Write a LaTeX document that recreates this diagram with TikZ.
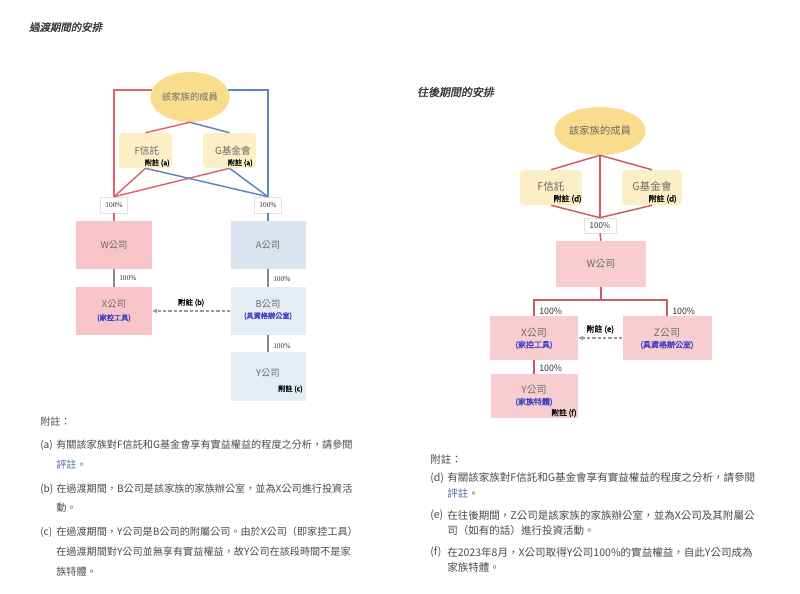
\documentclass[tikz,border=0pt]{standalone}
\usepackage{fontspec}
\setmainfont{Noto Sans CJK TC}
\newfontfamily\titlefont[FakeSlant=0.2,FakeBold=1.2]{Noto Sans CJK TC}
\newfontfamily\bfcjk[FakeBold=1.5]{Noto Sans CJK TC}
\newfontfamily\serlat{Liberation Serif}
\usetikzlibrary{shapes.geometric,arrows.meta}
\definecolor{gold}{HTML}{F9DC8C}
\definecolor{cream}{HTML}{FCEFC5}
\definecolor{pinkL}{HTML}{F7C5C9}
\definecolor{pinkR}{HTML}{F8CDD0}
\definecolor{blueA}{HTML}{DAE4EF}
\definecolor{blueB}{HTML}{E4ECF5}
\definecolor{redline}{HTML}{DE6470}
\definecolor{redlineR}{HTML}{CC5C62}
\definecolor{blueline}{HTML}{5B86BE}
\definecolor{linegray}{HTML}{8A8A8A}
\definecolor{arrowgray}{HTML}{9A9A9A}
\definecolor{txtgray}{HTML}{6A6A6A}
\definecolor{notegray}{HTML}{4A4A4A}
\definecolor{titlegray}{HTML}{333333}
\definecolor{linkblue}{HTML}{3B3BC8}
\definecolor{notelink}{HTML}{4A6FA5}
\definecolor{boxline}{HTML}{E2E2E2}
\tikzset{
  lnred/.style={draw=redline, line width=1.1pt},
  lnblue/.style={draw=blueline, line width=1.1pt},
  lngray/.style={draw=linegray, line width=0.8pt},
  lnredR/.style={draw=redlineR, line width=1.1pt},
  member/.style={ellipse, fill=gold, inner sep=0, text=txtgray},
  trustbox/.style={rectangle, rounded corners=2.5pt, fill=cream, inner sep=0},
  cobox/.style={rectangle, inner sep=0, text=txtgray},
  pctbox/.style={rectangle, fill=white, draw=boxline, line width=0.4pt, inner sep=0, text=titlegray},
  nametext/.style={text=txtgray, inner sep=0},
  subtext/.style={text=linkblue, inner sep=0},
  tagtext/.style={text=black, inner sep=0},
  pctlabL/.style={anchor=west, inner sep=0, text=titlegray, font=\serlat\fontsize{5.5}{6}\selectfont},
  pctlabR/.style={anchor=west, inner sep=0, text=titlegray, font=\fontsize{6.6}{7}\selectfont},
  noteL/.style={anchor=west, inner sep=0, text=notegray, font=\fontsize{7.6}{9}\selectfont},
  noteR/.style={anchor=west, inner sep=0, text=notegray, font=\fontsize{7.9}{9}\selectfont},
  dasharrow/.style={draw=arrowgray, line width=0.8pt, dash pattern=on 2.5pt off 1.5pt, -{Stealth[length=4pt,width=3.5pt]}}
}
\begin{document}
\begin{tikzpicture}[x=0.75pt,y=-0.75pt]
\fill[white] (0,0) rectangle (800,593);
\useasboundingbox (0,0) rectangle (800,593);

% ---------------- left diagram ----------------
\node[anchor=west, inner sep=0, text=titlegray, font=\titlefont\fontsize{7.8}{9}\selectfont] (tL) at (29,27) {過渡期間的安排};

\node[member, minimum width=57pt, minimum height=37.5pt, font=\fontsize{7}{8}\selectfont] (memL) at (190,97) {該家族的成員};
\node[trustbox, minimum width=39.75pt, minimum height=26.25pt] (FL) at (145.5,150.5) {};
\node[trustbox, minimum width=39.75pt, minimum height=26.25pt] (GL) at (229.5,150.5) {};
\node[nametext, font=\fontsize{7.3}{8}\selectfont] (FLn) at (147,151) {F信託};
\node[tagtext, anchor=east, font=\bfcjk\fontsize{5.4}{6}\selectfont] (FLt) at (170,163) {附註 (a)};
\node[nametext, font=\fontsize{7.3}{8}\selectfont] (GLn) at (233,151) {G基金會};
\node[tagtext, anchor=east, font=\bfcjk\fontsize{5.4}{6}\selectfont] (GLt) at (253,163) {附註 (a)};

\node[pctbox, minimum width=20.25pt, minimum height=12pt, font=\serlat\fontsize{5.5}{6}\selectfont] (pL1) at (114,205) {100\%};
\node[pctbox, minimum width=20.25pt, minimum height=12pt, font=\serlat\fontsize{5.5}{6}\selectfont] (pL2) at (268,205) {100\%};

\node[cobox, fill=pinkL, minimum width=57pt, minimum height=36pt, font=\fontsize{7}{8}\selectfont] (WL) at (114,245) {W公司};
\node[cobox, fill=pinkL, minimum width=57pt, minimum height=36pt] (XL) at (114,311) {};
\node[nametext, font=\fontsize{7}{8}\selectfont] (XLn) at (114,304) {X公司};
\node[subtext, font=\bfcjk\fontsize{5.4}{6}\selectfont] (XLs) at (114,318) {(家控工具)};
\node[cobox, fill=blueA, minimum width=56.25pt, minimum height=36pt, font=\fontsize{7}{8}\selectfont] (AL) at (268,245) {A公司};
\node[cobox, fill=blueB, minimum width=56.25pt, minimum height=36pt] (BL) at (268,311) {};
\node[nametext, font=\fontsize{7}{8}\selectfont] (BLn) at (268,304) {B公司};
\node[subtext, font=\bfcjk\fontsize{5.4}{6}\selectfont] (BLs) at (268,316) {(具資格辦公室)};
\node[cobox, fill=blueB, minimum width=56.25pt, minimum height=36.75pt] (YL) at (268,376.5) {};
\node[nametext, font=\fontsize{7}{8}\selectfont] (YLn) at (268,373) {Y公司};
\node[tagtext, anchor=east, font=\bfcjk\fontsize{5.4}{6}\selectfont] (YLt) at (303,389) {附註 (c)};

\draw[lnred] (memL.170) -- (memL.170 -| pL1) -- (pL1.north);
\draw[lnblue] (memL.10) -- (memL.10 -| pL2) -- (pL2.north);
\draw[lnred] (memL.south) -- (FL.north);
\draw[lnblue] (memL.south) -- (GL.north);
\draw[lnred] (FL.south) -- (pL1.north);
\draw[lnred] (GL.south) -- (pL1.north);
\draw[lnblue] (FL.south) -- (pL2.north);
\draw[lnblue] (GL.south) -- (pL2.north);
\draw[lnred, line width=0.8pt] (pL1.south) -- (WL.north);
\draw[lnblue, line width=0.8pt] (pL2.south) -- (AL.north);
\draw[lngray] (WL.south) -- (XL.north);
\draw[lngray] (AL.south) -- (BL.north);
\draw[lngray] (BL.south) -- (YL.north);
\draw[dasharrow] (BL.west) -- (XL.east) node[midway, above=3pt, tagtext, font=\bfcjk\fontsize{5.6}{6}\selectfont] {附註 (b)};
\node[pctlabL] at (119,278) {100\%};
\node[pctlabL] at (273,279) {100\%};
\node[pctlabL] at (273,346) {100\%};

% left notes
\node[noteL] at (40,422) {附註：};
\node[noteL] at (40,445) {(a)};
\node[noteL] at (56,445) {有關該家族對F信託和G基金會享有實益權益的程度之分析，請參閱};
\node[noteL] at (56,465) {\textcolor{notelink}{評註}。};
\node[noteL] at (40,489) {(b)};
\node[noteL] at (56,489) {在過渡期間，B公司是該家族的家族辦公室，並為X公司進行投資活};
\node[noteL] at (56,508) {動。};
\node[noteL] at (40,532) {(c)};
\node[noteL] at (56,532) {在過渡期間，Y公司是B公司的附屬公司。由於X公司（即家控工具）};
\node[noteL] at (56,552) {在過渡期間對Y公司並無享有實益權益，故Y公司在該段時間不是家};
\node[noteL] at (56,572) {族特體。};

% ---------------- right diagram ----------------
\node[anchor=west, inner sep=0, text=titlegray, font=\titlefont\fontsize{8.2}{9}\selectfont] (tR) at (417,92) {往後期間的安排};

\node[member, minimum width=68.25pt, minimum height=36pt, font=\fontsize{7.7}{8}\selectfont] (memR) at (600,131) {該家族的成員};
\node[trustbox, minimum width=46.5pt, minimum height=26.25pt] (FR) at (551,187.5) {};
\node[trustbox, minimum width=45pt, minimum height=26.25pt] (GR) at (652,187.5) {};
\node[nametext, font=\fontsize{8}{9}\selectfont] (FRn) at (551,186) {F信託};
\node[tagtext, anchor=east, font=\bfcjk\fontsize{6}{7}\selectfont] (FRt) at (582,199) {附註 (d)};
\node[nametext, font=\fontsize{8}{9}\selectfont] (GRn) at (652,186) {G基金會};
\node[tagtext, anchor=east, font=\bfcjk\fontsize{6}{7}\selectfont] (GRt) at (677,199) {附註 (d)};

\node[pctbox, minimum width=24pt, minimum height=11.25pt, font=\fontsize{6}{7}\selectfont] (pR) at (600,225.5) {100\%};

\node[cobox, fill=pinkR, minimum width=67.5pt, minimum height=34.5pt, font=\fontsize{7.5}{8}\selectfont] (WR) at (601,264) {W公司};
\node[cobox, fill=pinkR, minimum width=66pt, minimum height=33pt] (XR) at (534,338) {};
\node[nametext, font=\fontsize{7.5}{8}\selectfont] (XRn) at (534,333) {X公司};
\node[subtext, font=\bfcjk\fontsize{6}{7}\selectfont] (XRs) at (534,345) {(家控工具)};
\node[cobox, fill=pinkR, minimum width=66.75pt, minimum height=33pt] (ZR) at (667,338) {};
\node[nametext, font=\fontsize{7.5}{8}\selectfont] (ZRn) at (667,333) {Z公司};
\node[subtext, font=\bfcjk\fontsize{6}{7}\selectfont] (ZRs) at (667,345) {(具資格辦公室)};
\node[cobox, fill=pinkR, minimum width=65.25pt, minimum height=33pt] (YR) at (534,396) {};
\node[nametext, font=\fontsize{7.5}{8}\selectfont] (YRn) at (534,390) {Y公司};
\node[subtext, font=\bfcjk\fontsize{6}{7}\selectfont] (YRs) at (534,402) {(家族特體)};
\node[tagtext, anchor=east, font=\bfcjk\fontsize{5.8}{6}\selectfont] (YRt) at (577,413) {附註 (f)};

\draw[lnredR] (memR.south) -- (FR.north);
\draw[lnredR] (memR.south) -- (GR.north);
\draw[lnredR] (memR.south) -- (pR.north);
\draw[lnredR] (FR.south) -- (pR.north);
\draw[lnredR] (GR.south) -- (pR.north);
\draw[lnredR] (pR.south) -- (WR.north);
\coordinate (busR) at (601,300);
\draw[lnredR] (WR.south) -- (busR);
\draw[lnredR] (XR.north) |- (busR) -| (ZR.north);
\draw[lnredR] (XR.south) -- (YR.north);
\draw[dasharrow] (ZR.west) -- (XR.east) node[midway, above=3pt, tagtext, font=\bfcjk\fontsize{6}{7}\selectfont] {附註 (e)};
\node[pctlabR] at (539,311.5) {100\%};
\node[pctlabR] at (672,311.5) {100\%};
\node[pctlabR] at (539,368) {100\%};

% right notes
\node[noteR] at (430,459) {附註：};
\node[noteR] at (430,478) {(d)};
\node[noteR] at (447,478) {有關該家族對F信託和G基金會享有實益權益的程度之分析，請參閱};
\node[noteR] at (447,493) {\textcolor{notelink}{評註}。};
\node[noteR] at (430,515) {(e)};
\node[noteR] at (447,515) {在往後期間，Z公司是該家族的家族辦公室，並為X公司及其附屬公};
\node[noteR] at (447,530) {司（如有的話）進行投資活動。};
\node[noteR] at (430,552) {(f)};
\node[noteR] at (447,552) {在2023年8月，X公司取得Y公司100\%的實益權益，自此Y公司成為};
\node[noteR] at (447,567) {家族特體。};
\end{tikzpicture}
\end{document}
